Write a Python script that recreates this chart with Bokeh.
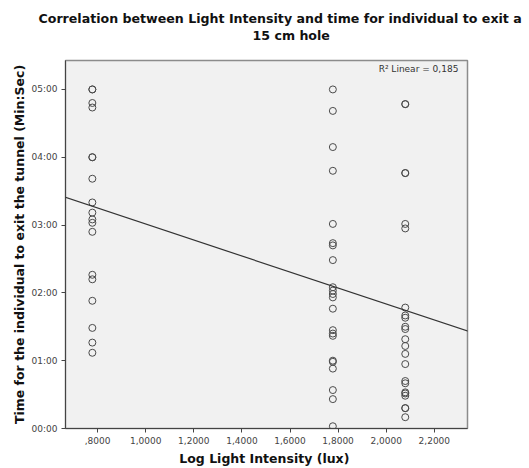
import math
from bokeh.plotting import figure
from bokeh.models import (ColumnDataSource, FixedTicker, Title, Label, Slope, Range1d)
from bokeh.embed import file_html
from bokeh.resources import INLINE

# ---- data ----
light_lux = [6, 60, 120]
time_6lux_s = [300, 300, 288, 284, 240, 240, 221, 200, 191, 185, 182, 174, 136, 132, 113, 89, 76, 67]
time_60lux_s = [300, 281, 249, 228, 181, 164, 162, 149, 125, 122, 119, 116, 106, 87, 84, 82, 60, 59, 53, 34, 26, 2]
time_120lux_s = [287, 287, 226, 226, 181, 177, 107, 100, 98, 90, 88, 79, 73, 66, 57, 42, 40, 32, 31, 29, 18, 18, 10]

fit_intercept_s = 251.6
fit_slope_s = -70.7
r2_text = "R\u00b2 Linear = 0,185"

title_line1 = "Correlation between Light Intensity and time for individual to exit a"
title_line2 = "15 cm hole"

x_ticks = [0.8, 1.0, 1.2, 1.4, 1.6, 1.8, 2.0, 2.2]
x_tick_labels = [",8000", "1,0000", "1,2000", "1,4000", "1,6000", "1,8000", "2,0000", "2,2000"]
y_ticks = [0, 60, 120, 180, 240, 300]
y_tick_labels = ["00:00", "01:00", "02:00", "03:00", "04:00", "05:00"]

xs, ys = [], []
for lux, times in zip(light_lux, [time_6lux_s, time_60lux_s, time_120lux_s]):
    for t in times:
        xs.append(math.log10(lux))
        ys.append(t)
src = ColumnDataSource(dict(x=xs, y=ys))

FONT = "DejaVu Sans"

p = figure(width=529, height=468, output_backend="svg", toolbar_location=None,
           x_range=Range1d(0.6665, 2.338), y_range=Range1d(0, 325.6),
           min_border_left=65, min_border_right=62, min_border_top=60, min_border_bottom=39,
           background_fill_color="#f1f1f1", border_fill_color="white")
p.outline_line_color = "#8c8c8c"
p.outline_line_width = 1.5
p.grid.visible = False

p.scatter("x", "y", source=src, marker="circle", size=7, fill_color=None,
          line_color="#4a4a4a", line_width=1)

p.add_layout(Slope(gradient=fit_slope_s, y_intercept=fit_intercept_s,
                   line_color="#333333", line_width=1.2))

p.add_layout(Label(x=2.30, y=318, text=r2_text, text_align="right", text_baseline="middle",
                   text_font=FONT, text_font_size="9px", text_color="#333333"))

# axes
p.xaxis.ticker = FixedTicker(ticks=x_ticks)
p.xaxis.major_label_overrides = dict(zip(x_ticks, x_tick_labels))
p.yaxis.ticker = FixedTicker(ticks=y_ticks)
p.yaxis.major_label_overrides = dict(zip(y_ticks, y_tick_labels))
for ax in (p.xaxis, p.yaxis):
    ax.minor_tick_line_color = None
    ax.major_tick_in = 0
    ax.major_tick_out = 4
    ax.major_tick_line_color = "#444444"
    ax.axis_line_color = "#444444"
    ax.major_label_text_font = FONT
    ax.major_label_text_font_size = "9px"
    ax.major_label_text_color = "#444444"
    ax.axis_label_text_font = FONT
    ax.axis_label_text_font_size = "12.5px"
    ax.axis_label_text_font_style = "bold"
    ax.axis_label_text_color = "#111111"
    ax.major_label_standoff = 4
p.xaxis.axis_label = "Log  Light Intensity (lux)"
p.yaxis.axis_label = "Time for the individual to exit the tunnel (Min:Sec)"
p.xaxis.axis_label_standoff = 4
p.yaxis.axis_label_standoff = 2

# spacer between frame and the two title lines
p.add_layout(Title(text=" ", standoff=15, text_font=FONT, text_font_size="1px"), "above")
p.add_layout(Title(text=title_line2, align="left", offset=187, standoff=0,
                   text_font=FONT, text_font_size="12.6px", text_font_style="bold",
                   text_color="#111111"), "above")
p.add_layout(Title(text=title_line1, align="left", offset=-27, standoff=0,
                   text_font=FONT, text_font_size="12.6px", text_font_style="bold",
                   text_color="#111111"), "above")

open("out.html", "w").write(file_html(p, INLINE))
